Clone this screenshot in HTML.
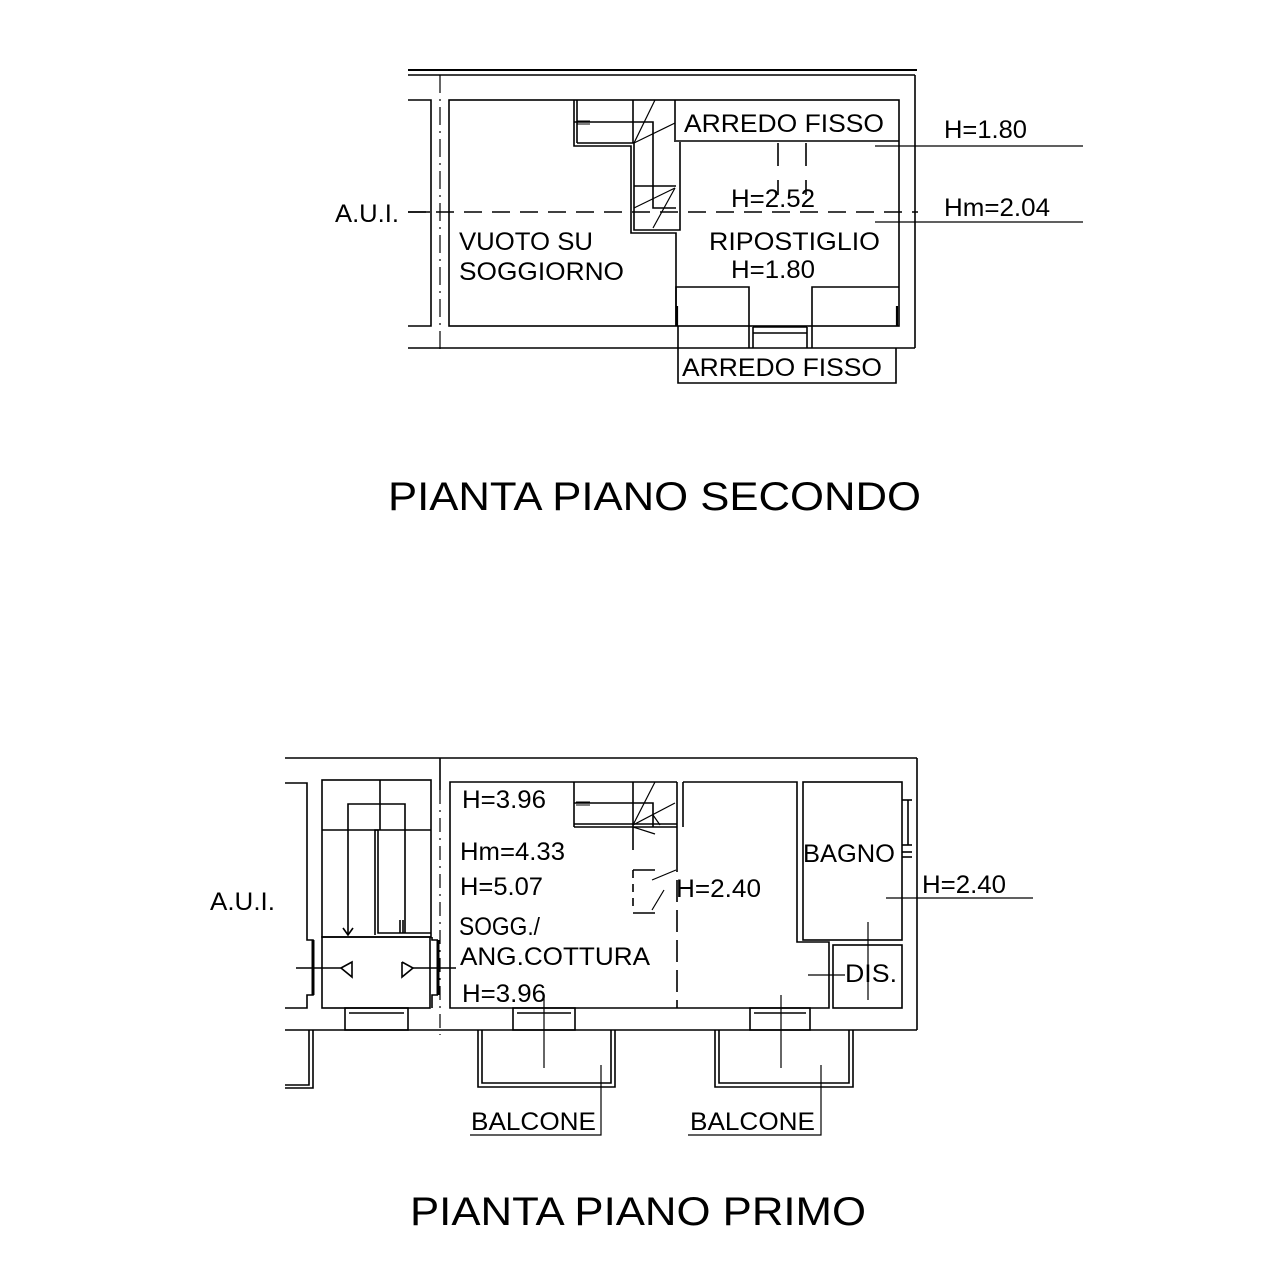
<!DOCTYPE html>
<html><head><meta charset="utf-8"><style>
html,body{margin:0;padding:0;background:#fff;}
svg{display:block;}
text{font-family:"Liberation Sans",sans-serif;fill:#000;}
</style></head><body>
<svg width="1274" height="1280" viewBox="0 0 1274 1280" xmlns="http://www.w3.org/2000/svg">
<g stroke="#000" stroke-width="1.6" fill="none">
<line x1="408" y1="70" x2="917" y2="70" stroke-width="2"/>
<line x1="408" y1="75" x2="915" y2="75"/>
<line x1="915" y1="75" x2="915" y2="348"/>
<line x1="408" y1="348" x2="915" y2="348"/>
<polyline points="408,100 431,100 431,326 408,326"/>
<line x1="440" y1="75" x2="440" y2="355" stroke-dasharray="18,6,2,6" stroke-width="1.2"/>
<rect x="449" y="100" width="450" height="226"/>
<polyline points="574,100 574,146 631,146 631,233 676,233 676,326"/>
<line x1="577" y1="100" x2="577" y2="143"/>
<polyline points="577,143 634,143 634,230 680,230 680,142"/>
<line x1="633" y1="100" x2="633" y2="143"/>
<line x1="675" y1="100" x2="675" y2="142"/>
<polyline points="574,122 653,122 653,208 676,208"/>
<line x1="634" y1="186" x2="676" y2="186"/>
<line x1="634" y1="143" x2="655" y2="100" stroke-width="1.2"/>
<line x1="634" y1="143" x2="675" y2="123" stroke-width="1.2"/>
<line x1="634" y1="208" x2="675" y2="188" stroke-width="1.2"/>
<line x1="653" y1="228" x2="675" y2="188" stroke-width="1.2"/>
<line x1="577" y1="121" x2="590" y2="121" stroke-width="1"/>
<line x1="577" y1="124" x2="590" y2="124" stroke-width="1"/>
<line x1="676" y1="141" x2="899" y2="141"/>
<line x1="778" y1="143" x2="778" y2="166"/>
<line x1="806" y1="143" x2="806" y2="166"/>
<line x1="778" y1="180" x2="778" y2="195"/>
<line x1="806" y1="180" x2="806" y2="195"/>
<line x1="408" y1="212" x2="918" y2="212" stroke-dasharray="18,10"/>
<line x1="875" y1="146" x2="1083" y2="146" stroke-width="1.2"/>
<line x1="875" y1="222" x2="1083" y2="222" stroke-width="1.2"/>
<polyline points="676,326 676,287 749,287 749,348"/>
<polyline points="899,287 812,287 812,348"/>
<line x1="753" y1="327" x2="807" y2="327"/>
<line x1="753" y1="333" x2="807" y2="333"/>
<line x1="753" y1="327" x2="753" y2="348"/>
<line x1="807" y1="327" x2="807" y2="348"/>
<line x1="677" y1="306" x2="677" y2="326" stroke-width="2.2"/>
<line x1="897" y1="306" x2="897" y2="326" stroke-width="2.2"/>
<polyline points="678,326 678,383 896,383 896,348"/>

<line x1="285" y1="758" x2="917" y2="758"/>
<line x1="917" y1="758" x2="917" y2="1030"/>
<line x1="285" y1="1030" x2="917" y2="1030"/>
<line x1="440" y1="758" x2="440" y2="790"/>
<line x1="440" y1="790" x2="440" y2="1035" stroke-dasharray="14,6,2,6" stroke-width="1.2"/>
<polyline points="285,783 307,783 307,940 313,940 313,995 307,995 307,1008 285,1008"/>
<polyline points="285,1085 309,1085 309,1030"/>
<polyline points="285,1088 313,1088 313,1030"/>
<rect x="322" y="780" width="109" height="157"/>
<line x1="322" y1="830" x2="431" y2="830"/>
<line x1="380" y1="780" x2="380" y2="830"/>
<polyline points="348,935 348,804 405,804 405,933"/>
<polyline points="375,935 375,830 378,830 378,933 431,933"/>
<polyline points="343,928 348,935 353,928"/>
<line x1="400" y1="920" x2="400" y2="933"/>
<line x1="403" y1="920" x2="403" y2="933"/>
<rect x="322" y="937" width="108" height="71"/>
<polyline points="341,968 352,962 352,977 341,968"/>
<polyline points="402,962 413,968 402,977 402,962"/>
<line x1="296" y1="968" x2="341" y2="968"/>
<line x1="413" y1="968" x2="456" y2="968"/>
<line x1="313" y1="940" x2="313" y2="995" stroke-width="3"/>
<line x1="438" y1="940" x2="438" y2="995" stroke-width="3"/>
<polyline points="432,1008 432,995 438,995"/>
<polyline points="432,937 432,940 438,940"/>
<polyline points="677,782 450,782 450,1008 829,1008 829,942 797,942 797,782 683,782"/>
<line x1="574" y1="782" x2="574" y2="827"/>
<polyline points="574,803 653,803 653,827"/>
<polyline points="574,824 677,824"/>
<line x1="574" y1="827" x2="677" y2="827"/>
<line x1="633" y1="782" x2="633" y2="850"/>
<line x1="677" y1="782" x2="677" y2="850"/>
<line x1="683" y1="782" x2="683" y2="827"/>
<line x1="633" y1="825" x2="655" y2="782" stroke-width="1.2"/>
<line x1="633" y1="825" x2="675" y2="803" stroke-width="1.2"/>
<line x1="633" y1="827" x2="655" y2="834" stroke-width="1.2"/>
<line x1="653" y1="815" x2="660" y2="825" stroke-width="1.2"/>
<line x1="576" y1="802" x2="590" y2="802" stroke-width="1"/>
<line x1="576" y1="805" x2="590" y2="805" stroke-width="1"/>
<line x1="677" y1="850" x2="677" y2="1008" stroke-dasharray="22,8"/>
<line x1="633" y1="870" x2="633" y2="912" stroke-dasharray="8,6"/>
<polyline points="633,870 655,870"/>
<polyline points="633,913 655,913"/>
<line x1="652" y1="880" x2="676" y2="870" stroke-width="1.2"/>
<line x1="652" y1="910" x2="664" y2="890" stroke-width="1.2"/>
<rect x="803" y="782" width="99" height="158"/>
<rect x="833" y="945" width="69" height="63"/>
<line x1="902" y1="800" x2="912" y2="800"/>
<line x1="902" y1="845" x2="912" y2="845"/>
<line x1="908" y1="800" x2="908" y2="845"/>
<line x1="902" y1="852" x2="912" y2="852"/>
<line x1="902" y1="857" x2="912" y2="857"/>
<line x1="886" y1="898" x2="1033" y2="898" stroke-width="1.2"/>
<line x1="868" y1="922" x2="868" y2="1000" stroke-width="1.2"/>
<line x1="808" y1="975" x2="845" y2="975" stroke-width="1.2"/>
<rect x="345" y="1008" width="63" height="22"/>
<line x1="349" y1="1013" x2="404" y2="1013"/>
<rect x="513" y="1008" width="62" height="22"/>
<line x1="517" y1="1013" x2="571" y2="1013"/>
<rect x="750" y="1008" width="60" height="22"/>
<line x1="754" y1="1013" x2="806" y2="1013"/>
<polyline points="478,1030 478,1087 615,1087 615,1030"/>
<polyline points="482,1030 482,1083 611,1083 611,1030"/>
<polyline points="715,1030 715,1087 853,1087 853,1030"/>
<polyline points="719,1030 719,1083 849,1083 849,1030"/>
<line x1="544" y1="995" x2="544" y2="1068" stroke-width="1.2"/>
<line x1="781" y1="995" x2="781" y2="1068" stroke-width="1.2"/>
<polyline points="470,1135 601,1135 601,1065" stroke-width="1.2"/>
<polyline points="688,1135 821,1135 821,1065" stroke-width="1.2"/>
<line x1="408" y1="212" x2="430" y2="212"/>
</g>
<g font-size="25">
<text x="335" y="222" textLength="64" lengthAdjust="spacingAndGlyphs">A.U.I.</text>
<text x="684" y="132" textLength="200" lengthAdjust="spacingAndGlyphs">ARREDO FISSO</text>
<text x="944" y="138" textLength="83" lengthAdjust="spacingAndGlyphs">H=1.80</text>
<text x="731" y="207" textLength="84" lengthAdjust="spacingAndGlyphs">H=2.52</text>
<text x="944" y="216" textLength="106" lengthAdjust="spacingAndGlyphs">Hm=2.04</text>
<text x="459" y="250" textLength="134" lengthAdjust="spacingAndGlyphs">VUOTO SU</text>
<text x="459" y="280" textLength="165" lengthAdjust="spacingAndGlyphs">SOGGIORNO</text>
<text x="709" y="250" textLength="171" lengthAdjust="spacingAndGlyphs">RIPOSTIGLIO</text>
<text x="731" y="278" textLength="84" lengthAdjust="spacingAndGlyphs">H=1.80</text>
<text x="682" y="376" textLength="200" lengthAdjust="spacingAndGlyphs">ARREDO FISSO</text>
<text x="388" y="510" font-size="40" textLength="533" lengthAdjust="spacingAndGlyphs">PIANTA PIANO SECONDO</text>

<text x="210" y="910" textLength="65" lengthAdjust="spacingAndGlyphs">A.U.I.</text>
<text x="462" y="808" textLength="84" lengthAdjust="spacingAndGlyphs">H=3.96</text>
<text x="460" y="860" textLength="105" lengthAdjust="spacingAndGlyphs">Hm=4.33</text>
<text x="460" y="895" textLength="83" lengthAdjust="spacingAndGlyphs">H=5.07</text>
<text x="459" y="935" textLength="81" lengthAdjust="spacingAndGlyphs">SOGG./</text>
<text x="460" y="965" textLength="190" lengthAdjust="spacingAndGlyphs">ANG.COTTURA</text>
<text x="462" y="1002" textLength="84" lengthAdjust="spacingAndGlyphs">H=3.96</text>
<text x="676" y="897" textLength="85" lengthAdjust="spacingAndGlyphs">H=2.40</text>
<text x="803" y="862" textLength="92" lengthAdjust="spacingAndGlyphs">BAGNO</text>
<text x="845" y="982" textLength="52" lengthAdjust="spacingAndGlyphs">DIS.</text>
<text x="922" y="893" textLength="84" lengthAdjust="spacingAndGlyphs">H=2.40</text>
<text x="471" y="1130" textLength="125" lengthAdjust="spacingAndGlyphs">BALCONE</text>
<text x="690" y="1130" textLength="125" lengthAdjust="spacingAndGlyphs">BALCONE</text>
<text x="410" y="1225" font-size="40" textLength="456" lengthAdjust="spacingAndGlyphs">PIANTA PIANO PRIMO</text>
</g>
</svg>
</body></html>
